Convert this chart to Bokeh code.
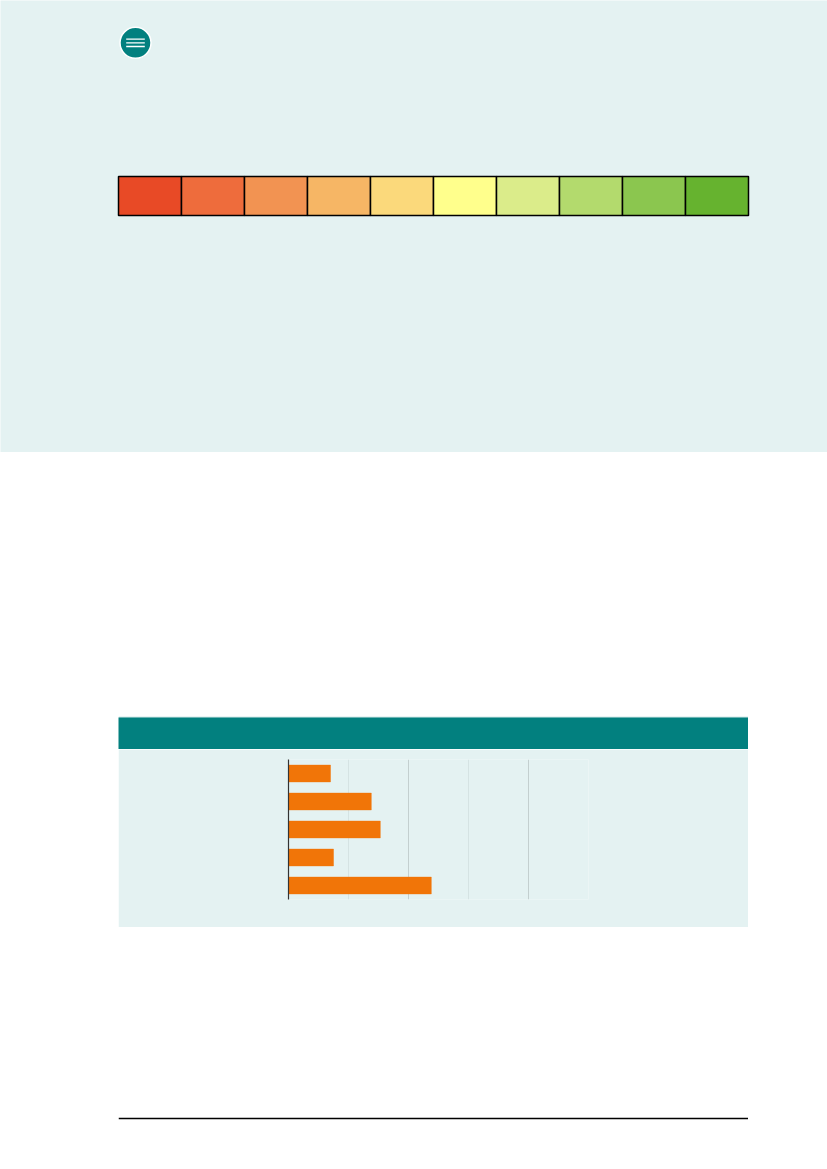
from bokeh.plotting import figure
from bokeh.layouts import column, row
from bokeh.models import Range1d, FixedTicker, Grid, Spacer, ColumnDataSource, Span
from bokeh.embed import file_html
from bokeh.resources import INLINE

# ---------------- data ----------------
scale_levels = [1, 2, 3, 4, 5, 6, 7, 8, 9, 10]
scale_colors = ["#e84a26", "#ee6c3c", "#f29352", "#f6b665", "#fbd97b",
                "#ffff8c", "#dbec8a", "#b3da6d", "#8bc64f", "#66b32f"]

categories = ["Item 1", "Item 2", "Item 3", "Item 4", "Item 5"]
values = [7.0, 13.8, 15.3, 7.5, 23.8]
x_major_ticks = [0, 20, 40]
x_minor_ticks = [10, 30, 50]

# ---------------- styles ----------------
PANEL = "#e4f2f2"
TEAL = "#02807f"
BAR = "#f17508"

def bare(fig):
    fig.min_border_left = fig.min_border_right = 0
    fig.min_border_top = fig.min_border_bottom = 0
    fig.outline_line_color = None
    fig.xgrid.visible = False
    fig.ygrid.visible = False
    return fig

# ---------------- top panel with colour scale ----------------
TW, TH = 827, 452
CELL = 63.0           # px per scale cell
BAND_H = 39.0         # px height of the scale band
X_LEFT_PX = 118.0     # left of the scale inside panel
Y_TOP_PX = 176.0      # top of the scale inside panel
x0 = -X_LEFT_PX / CELL
y_top = 1 + Y_TOP_PX / BAND_H
y_bot = y_top - TH / BAND_H

top = figure(width=TW, height=TH, output_backend="svg", toolbar_location=None,
             x_range=Range1d(x0, x0 + TW / CELL), y_range=Range1d(y_bot, y_top),
             x_axis_location=None, y_axis_location=None,
             background_fill_color=PANEL, border_fill_color=PANEL)
bare(top)

n = len(scale_levels)
idx = [i for i in range(n)]
top.quad(left=idx, right=[i + 1 for i in idx], bottom=[0] * n, top=[1] * n,
         fill_color=scale_colors, line_color="black", line_width=1.5)

def px(lx, ly):
    return x0 + lx / CELL, y_top - ly / BAND_H

# menu icon
cx, cy = px(135, 42.3)
top.scatter([cx], [cy], marker="circle", size=31, fill_color=TEAL,
            line_color="white", line_width=1.5)
hw = 9.3 / CELL
dy = 3.7 / BAND_H
top.segment(x0=[cx - hw] * 3, x1=[cx + hw] * 3,
            y0=[cy + dy, cy, cy - dy], y1=[cy + dy, cy, cy - dy],
            line_color="white", line_width=1.3)

# ---------------- header band ----------------
header = figure(width=630, height=33, output_backend="svg", toolbar_location=None,
                x_axis_location=None, y_axis_location=None,
                background_fill_color=TEAL, border_fill_color="#a9d4d2")
bare(header)
header.min_border_top = 1

# ---------------- bar chart ----------------
src = ColumnDataSource(dict(y=list(range(len(categories))), cat=categories, v=values))
chart = figure(width=630, height=178, output_backend="svg", toolbar_location=None,
               x_range=Range1d(0, 50),
               y_range=Range1d(len(categories) - 0.5, -0.5),
               x_axis_location=None,
               background_fill_color=PANEL, border_fill_color=PANEL)
chart.outline_line_color = None
chart.min_border_left = 170
chart.min_border_right = 160
chart.min_border_top = 10
chart.min_border_bottom = 28
chart.xgrid.visible = False
chart.ygrid.visible = False
g = Grid(dimension=0, ticker=FixedTicker(ticks=x_major_ticks, minor_ticks=x_minor_ticks),
         grid_line_color="#c3cfcf", grid_line_width=1,
         minor_grid_line_color="#d5e3e3", minor_grid_line_width=1)
chart.add_layout(g, "center")
chart.hbar(y="y", left=0, right="v", height=0.6, source=src,
           fill_color=BAR, line_color=BAR, line_alpha=0.45, line_width=1)
yax = chart.yaxis[0]
yax.ticker = FixedTicker(ticks=[])
yax.axis_line_color = "#333333"
yax.axis_line_width = 1.2
yax.major_tick_line_color = None
yax.minor_tick_line_color = None

# ---------------- footer rule ----------------
footer = figure(width=630, height=10, output_backend="svg", toolbar_location=None,
                x_axis_location=None, y_axis_location=None,
                x_range=Range1d(0, 1), y_range=Range1d(10, 0),
                background_fill_color="white", border_fill_color="white")
bare(footer)
footer.add_layout(Span(location=5, dimension="width", line_color="black", line_width=1.3))

layout = column(
    top,
    Spacer(width=10, height=264),
    row(Spacer(width=118, height=33), header),
    row(Spacer(width=118, height=178), chart),
    Spacer(width=10, height=184),
    row(Spacer(width=118, height=10), footer),
)

open("out.html", "w").write(file_html(layout, INLINE))
